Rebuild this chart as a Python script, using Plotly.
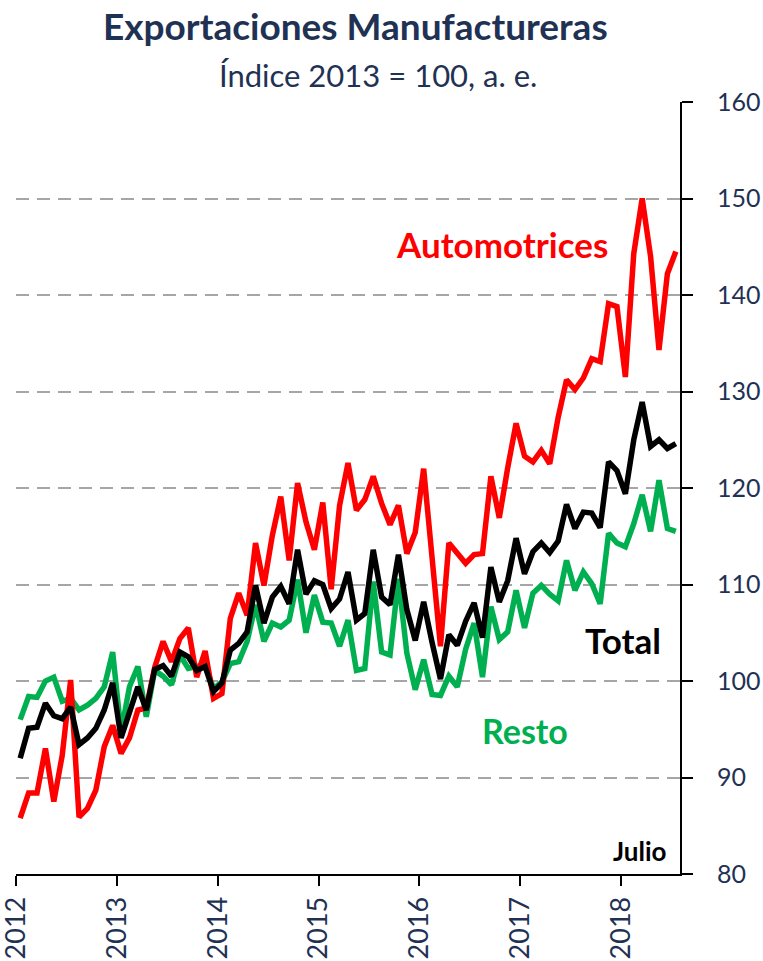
import plotly.graph_objects as go

years = ["2012", "2013", "2014", "2015", "2016", "2017", "2018"]
months = list(range(79))  # Jan 2012 .. Jul 2018

automotrices = [
    85.8, 88.4, 88.4, 93.0, 87.5, 92.3, 100.1, 85.9, 86.8, 88.7, 93.2, 95.4,
    92.5, 94.1, 97.0, 97.2, 101.4, 104.1, 102.0, 104.4, 105.5, 100.4, 103.1, 98.2,
    98.7, 106.5, 109.1, 106.8, 114.3, 109.9, 115.1, 119.1, 112.5, 120.5, 116.5, 113.6,
    118.5, 109.5, 118.2, 122.6, 117.7, 118.8, 121.2, 118.4, 116.2, 118.2, 113.2, 115.4,
    122.0, 112.8, 103.6, 114.3, 113.3, 112.2, 113.1, 113.2, 121.2, 116.9, 122.1, 126.7,
    123.3, 122.7, 123.9, 122.5, 127.3, 131.2, 130.2, 131.4, 133.4, 133.1, 139.1, 138.8,
    131.5, 144.3, 150.0, 144.0, 134.3, 142.2, 144.5,
]

total = [
    92.0, 95.1, 95.2, 97.7, 96.4, 96.1, 97.3, 93.4, 94.1, 95.1, 97.0, 99.8,
    94.1, 96.6, 99.4, 97.0, 101.2, 101.6, 100.5, 103.0, 102.5, 101.1, 101.5, 98.9,
    99.8, 103.2, 103.9, 105.1, 109.9, 106.0, 108.7, 109.8, 108.0, 113.6, 109.0, 110.4,
    110.0, 107.5, 108.5, 111.3, 106.3, 107.0, 113.6, 108.7, 107.9, 113.1, 107.4, 104.2,
    108.2, 104.0, 100.2, 104.8, 103.7, 106.2, 108.1, 104.5, 111.8, 108.2, 110.4, 114.8,
    111.1, 113.4, 114.3, 113.3, 114.5, 118.3, 115.8, 117.5, 117.4, 115.9, 122.7, 121.8,
    119.4, 125.0, 128.9, 124.3, 125.0, 124.1, 124.6,
]

resto = [
    96.0, 98.4, 98.3, 100.0, 100.4, 97.9, 98.2, 97.0, 97.5, 98.2, 99.4, 103.0,
    94.7, 99.4, 101.5, 96.3, 101.1, 100.5, 99.6, 102.7, 101.3, 101.5, 101.7, 99.2,
    99.9, 101.8, 102.0, 104.1, 107.9, 104.1, 106.0, 105.6, 106.3, 110.5, 105.0, 108.9,
    106.1, 106.0, 103.6, 106.3, 101.1, 101.3, 110.3, 103.0, 102.7, 110.6, 102.9, 99.1,
    102.2, 98.6, 98.5, 100.5, 99.4, 103.3, 106.0, 100.4, 107.7, 104.3, 105.1, 109.4,
    105.5, 109.1, 109.9, 109.0, 108.3, 112.5, 109.4, 111.3, 110.1, 108.0, 115.3, 114.3,
    113.9, 116.3, 119.3, 115.5, 120.8, 115.8, 115.5,
]

y_ticks = [80, 90, 100, 110, 120, 130, 140, 150, 160]

NAVY = "#1F3254"
FONT = "Lato"

fig = go.Figure()
fig.add_trace(go.Scatter(x=months, y=resto, mode="lines", name="Resto",
                         line=dict(color="#00B050", width=5.5)))
fig.add_trace(go.Scatter(x=months, y=automotrices, mode="lines", name="Automotrices",
                         line=dict(color="#FF0000", width=5.5)))
fig.add_trace(go.Scatter(x=months, y=total, mode="lines", name="Total",
                         line=dict(color="#000000", width=5.5)))

tickvals_x = [-0.499 + 12 * k for k in range(len(years))]

fig.update_layout(
    width=763, height=961,
    margin=dict(l=16, r=83, t=102, b=87),
    paper_bgcolor="white", plot_bgcolor="white",
    showlegend=False,
    font=dict(family=FONT, color=NAVY),
    xaxis=dict(
        range=[-0.5, 78.5], tickvals=tickvals_x, ticktext=years,
        tickangle=-90, ticks="outside", ticklen=10, tickwidth=2, tickcolor="black",
        showline=True, linecolor="black", linewidth=2, showgrid=False, zeroline=False,
        tickfont=dict(family=FONT, size=27, color=NAVY),
        automargin=False, ticklabeloverflow="allow",
    ),
    yaxis=dict(
        range=[80, 160], tickvals=y_ticks, side="right",
        ticks="outside", ticklen=11, tickwidth=2, tickcolor="black",
        showline=True, linecolor="black", linewidth=2,
        showgrid=True, gridcolor="#A6A6A6", gridwidth=2, griddash="13px,8px",
        zeroline=False,
        tickfont=dict(family=FONT, size=25, color=NAVY),
        ticklabelstandoff=19,
        automargin=False, ticklabeloverflow="allow",
    ),
    annotations=[
        dict(text="<b>Exportaciones Manufactureras</b>", xref="paper", yref="paper",
             x=0.511, y=1.099, xanchor="center", yanchor="middle", showarrow=False,
             font=dict(family=FONT, size=37, color=NAVY)),
        dict(text="Índice 2013 = 100, a. e.", xref="paper", yref="paper",
             x=0.545, y=1.035, xanchor="center", yanchor="middle", showarrow=False,
             font=dict(family=FONT, size=31, color=NAVY)),
        dict(text="<b>Automotrices</b>", x=57.3, y=145.3, xref="x", yref="y",
             showarrow=False, font=dict(family=FONT, size=35, color="#FF0000")),
        dict(text="<b>Total</b>", x=71.7, y=104.2, xref="x", yref="y",
             showarrow=False, font=dict(family=FONT, size=35, color="#000000")),
        dict(text="<b>Resto</b>", x=60.0, y=94.9, xref="x", yref="y",
             showarrow=False, font=dict(family=FONT, size=34, color="#00B050")),
        dict(text="<b>Julio</b>", x=73.7, y=82.4, xref="x", yref="y",
             showarrow=False, font=dict(family=FONT, size=26, color="#000000")),
    ],
)

# remove the default 8px body margin so the 763x961 figure fills the window exactly
fig.write_html("out.html", config={"displayModeBar": False},
               post_script="document.body.style.margin='0px';")
